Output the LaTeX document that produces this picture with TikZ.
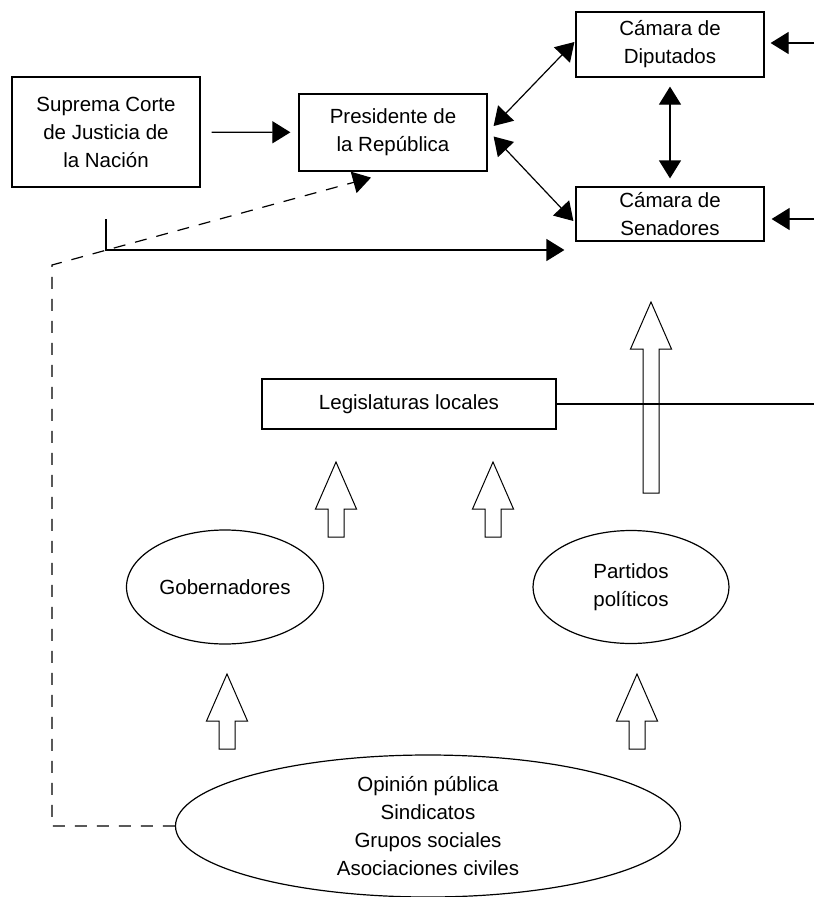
\documentclass[tikz,border=0pt]{standalone}
\usepackage{fontspec}
\setmainfont{Liberation Sans}
\usetikzlibrary{arrows.meta,shapes.geometric}

% hollow block arrow pointing up: x, bottom y, tip y
\newcommand{\blockup}[3]{%
  \draw[blockarrow] (#1-8,#2) -- (#1-8,#3+47) -- (#1-20.5,#3+47) -- (#1,#3)
    -- (#1+20.5,#3+47) -- (#1+8,#3+47) -- (#1+8,#2) -- cycle;}

\begin{document}
\begin{tikzpicture}
  [x=1pt, y=-1pt, line width=1.2pt,
   every node/.style={font=\fontsize{20.5}{28}\selectfont, align=center},
   box/.style={draw, inner sep=0pt},
   blob/.style={draw, ellipse, inner sep=0pt},
   arr/.style={-{Triangle[length=18pt,width=22pt]}},
   dblarr/.style={{Triangle[length=18pt,width=22pt]}-{Triangle[length=18pt,width=22pt]}},
   dasharr/.style={dash pattern=on 12pt off 10pt, -{Triangle[length=18pt,width=22pt]}},
   blockarrow/.style={draw, fill=white, line width=1pt}]

  \useasboundingbox (0,0) rectangle (814,897);

  % boxes
  \node[box, minimum width=188pt, minimum height=110pt] (corte) at (106,132)
    {Suprema Corte\\de Justicia de\\la Nación};
  \node[box, minimum width=188pt, minimum height=77pt] (pres) at (393,132.5)
    {Presidente de\\la República};
  \node[box, minimum width=188pt, minimum height=65pt] (dip) at (670,44.5)
    {Cámara de\\Diputados};
  \node[box, minimum width=188pt, minimum height=54pt] (sen) at (670,214)
    {Cámara de\\Senadores};
  \node[box, minimum width=294pt, minimum height=50pt] (legis) at (409,404)
    {Legislaturas locales};

  % ellipses
  \node[blob, minimum width=197pt, minimum height=114pt] (gob) at (225,587)
    {Gobernadores};
  \node[blob, minimum width=196pt, minimum height=113pt] (part) at (631,587)
    {Partidos\\políticos};
  \node[blob, minimum width=505pt, minimum height=142pt] (opin) at (428,826)
    {Opinión pública\\Sindicatos\\Grupos sociales\\Asociaciones civiles};

  % loose ends
  \coordinate (dipin) at (814,43);
  \coordinate (senin) at (814,219);
  \coordinate (lstart) at (106,219);
  \coordinate (dashcorner) at (52,265);
  \coordinate (legisout) at (814,404);

  % connectors
  \draw[arr, shorten <=11pt, shorten >=8pt] (corte) -- (pres);
  \draw[dblarr] ([shift={(6,-6.5)}]pres.east) -- ([shift={(-1,-2.5)}]dip.west);
  \draw[dblarr] ([shift={(6,4)}]pres.east) -- ([shift={(-2,7)}]sen.west);
  \draw[dblarr, shorten <=9pt, shorten >=8pt] (dip) -- (sen);
  \draw[arr] (dipin) -- ([shift={(6,-1.5)}]dip.east);
  \draw[arr] (senin) -- ([shift={(7,5)}]sen.east);
  \draw[arr] (lstart) |- ([shift={(-11,36)}]sen.west);
  \draw[dasharr] (opin.west) -| (dashcorner) -- ([shift={(-22,6)}]pres.south);

  % block arrows
  \blockup{651}{493}{302}
  \blockup{336}{537}{462}
  \blockup{493}{537}{462}
  \blockup{227}{749}{674}
  \blockup{637}{749}{674}

  \draw (legis.east) -- (legis.east -| legisout);

\end{tikzpicture}
\end{document}
